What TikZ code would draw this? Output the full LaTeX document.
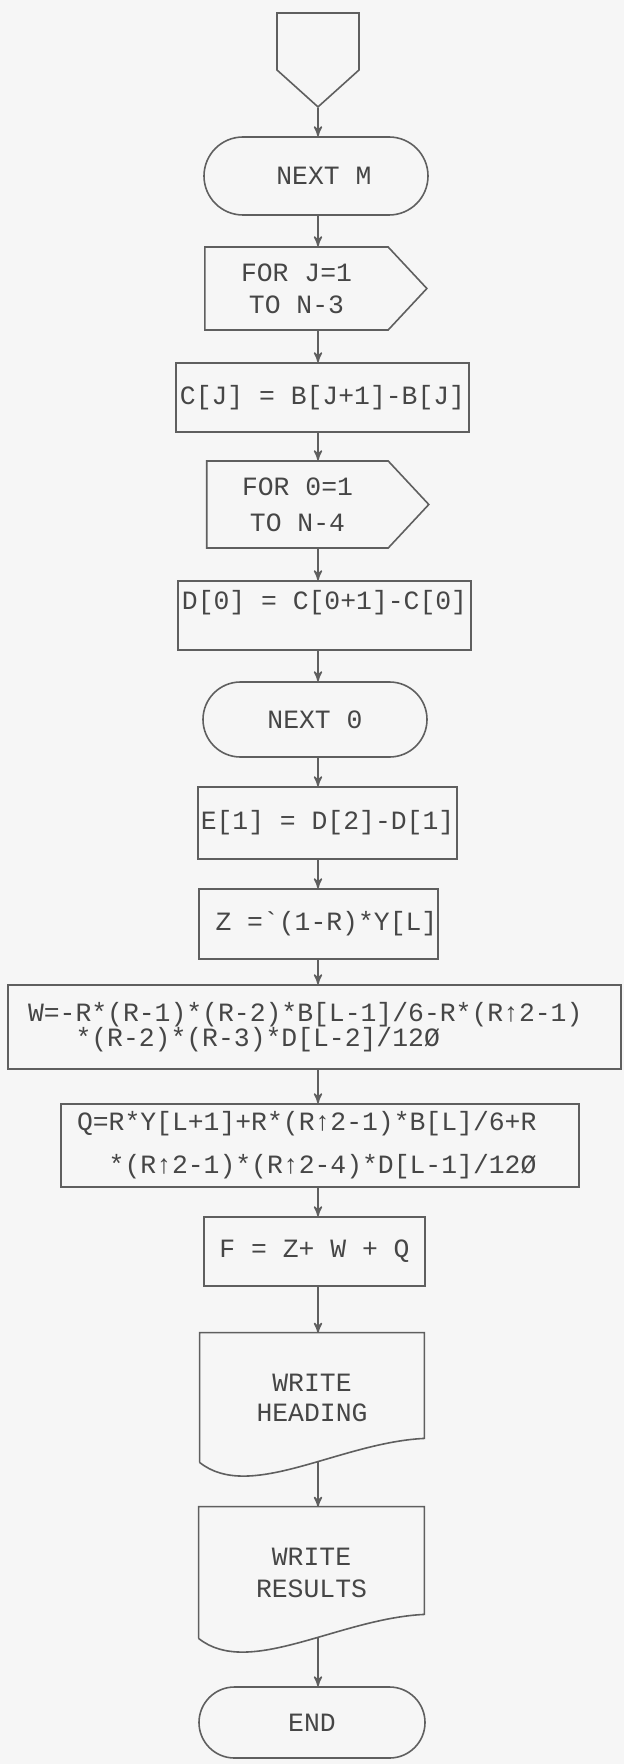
\documentclass[tikz,border=0pt]{standalone}
\usepackage{fontspec}
\setmonofont{Liberation Mono}
\usetikzlibrary{calc,arrows,shapes.misc,shapes.symbols}
\definecolor{cPaper}{RGB}{246,246,246}
\definecolor{cInk}{RGB}{95,95,95}
\definecolor{cType}{RGB}{70,70,70}
\newcommand{\tyfont}{\ttfamily\fontsize{13.2}{13}\selectfont}

\begin{document}
\begin{tikzpicture}[x=0.5pt,y=-0.5pt,
    every node/.style={font=\tyfont,text=cType,inner sep=0pt},
    line/.style={draw=cInk,line width=0.8pt},
    flow/.style={line,->,>=stealth'},
    box/.style={line,rectangle},
    term/.style={line,rounded rectangle},
    loopbox/.style={line,signal,signal to=east,signal from=nowhere,signal pointer angle=94,align=center},
    docbox/.style={rectangle,align=center}]
  \path[use as bounding box,fill=cPaper] (0,0) rectangle (624,1764);
  \coordinate (spine) at (318,0);

  \node[line,signal,signal to=south,signal from=nowhere,signal pointer angle=96,
        minimum width=41pt,minimum height=28.5pt] (conn) at (318,41.5) {};
  \node[term,minimum width=112pt,minimum height=39pt] (nextm) at (316,176) {~NEXT M};
  \node[loopbox,minimum width=111pt,minimum height=41.5pt] (forj) at (296.5,288.5) {FOR J=1\\[3pt]TO N-3};
  \node[box,minimum width=146.5pt,minimum height=34.5pt] (cj) at (322.5,397.5) {C[J] = B[J+1]-B[J]};
  \node[loopbox,minimum width=111pt,minimum height=43.5pt] (foro) at (297.5,504.5) {FOR 0=1\\[5pt]TO N-4};
  \node[box,minimum width=146.5pt,minimum height=34.5pt,text depth=16pt] (dz) at (324.5,615.5) {D[0] = C[0+1]-C[0]};
  \node[term,minimum width=112pt,minimum height=37.5pt] (nexto) at (315,719.5) {NEXT 0};
  \node[box,minimum width=129.5pt,minimum height=36pt] (ee) at (327.5,823) {E[1] = D[2]-D[1]};
  \node[box,minimum width=119.5pt,minimum height=35pt] (zz) at (318.5,924) {~Z =\textasciigrave(1-R)*Y[L]};
  \node[box,minimum height=42pt,text width=286.5pt,inner xsep=10pt,align=left] (ww) at (314.5,1027)
    {W=-R*(R-1)*(R-2)*B[L-1]/6-R*(R↑2-1)\\[-0.5pt]\phantom{W=-}*(R-2)*(R-3)*D[L-2]/12Ø};
  \node[box,minimum height=41.5pt,text width=243pt,inner xsep=8pt,align=left] (qq) at (320,1145.5)
    {Q=R*Y[L+1]+R*(R↑2-1)*B[L]/6+R\\[8.5pt]\phantom{Q=}*(R↑2-1)*(R↑2-4)*D[L-1]/12Ø};
  \node[box,minimum width=110.5pt,minimum height=34.5pt] (ff) at (314.5,1251.5) {F = Z+ W + Q};
  \node[docbox,minimum width=112pt,minimum height=64.5pt] (wh) at (312,1397.5) {WRITE\\[2pt]HEADING};
  \node[docbox,minimum width=112.5pt,minimum height=65.5pt] (wr) at (311.5,1572.5) {WRITE\\[3pt]RESULTS};
  \node[term,minimum width=113pt,minimum height=35.5pt] (endn) at (312,1722.5) {END};

  % document outlines with the wavy foot
  \foreach \d in {wh,wr}
    \draw[line] (\d.south west) -- (\d.north west) -- (\d.north east) -- ($(\d.south east)+(0,-24)$)
      .. controls ($(\d.south west)+(140,-20)$) and ($(\d.south west)+(50,40)$) .. (\d.south west);

  \foreach \a/\b in {conn/nextm,nextm/forj,forj/cj,cj/foro,foro/dz,dz/nexto,nexto/ee,ee/zz,
                     zz/ww,ww/qq,qq/ff,ff/wh,wh/wr,wr/endn}
    \draw[flow] (\a.south -| spine) -- (\b.north -| spine);
\end{tikzpicture}
\end{document}
